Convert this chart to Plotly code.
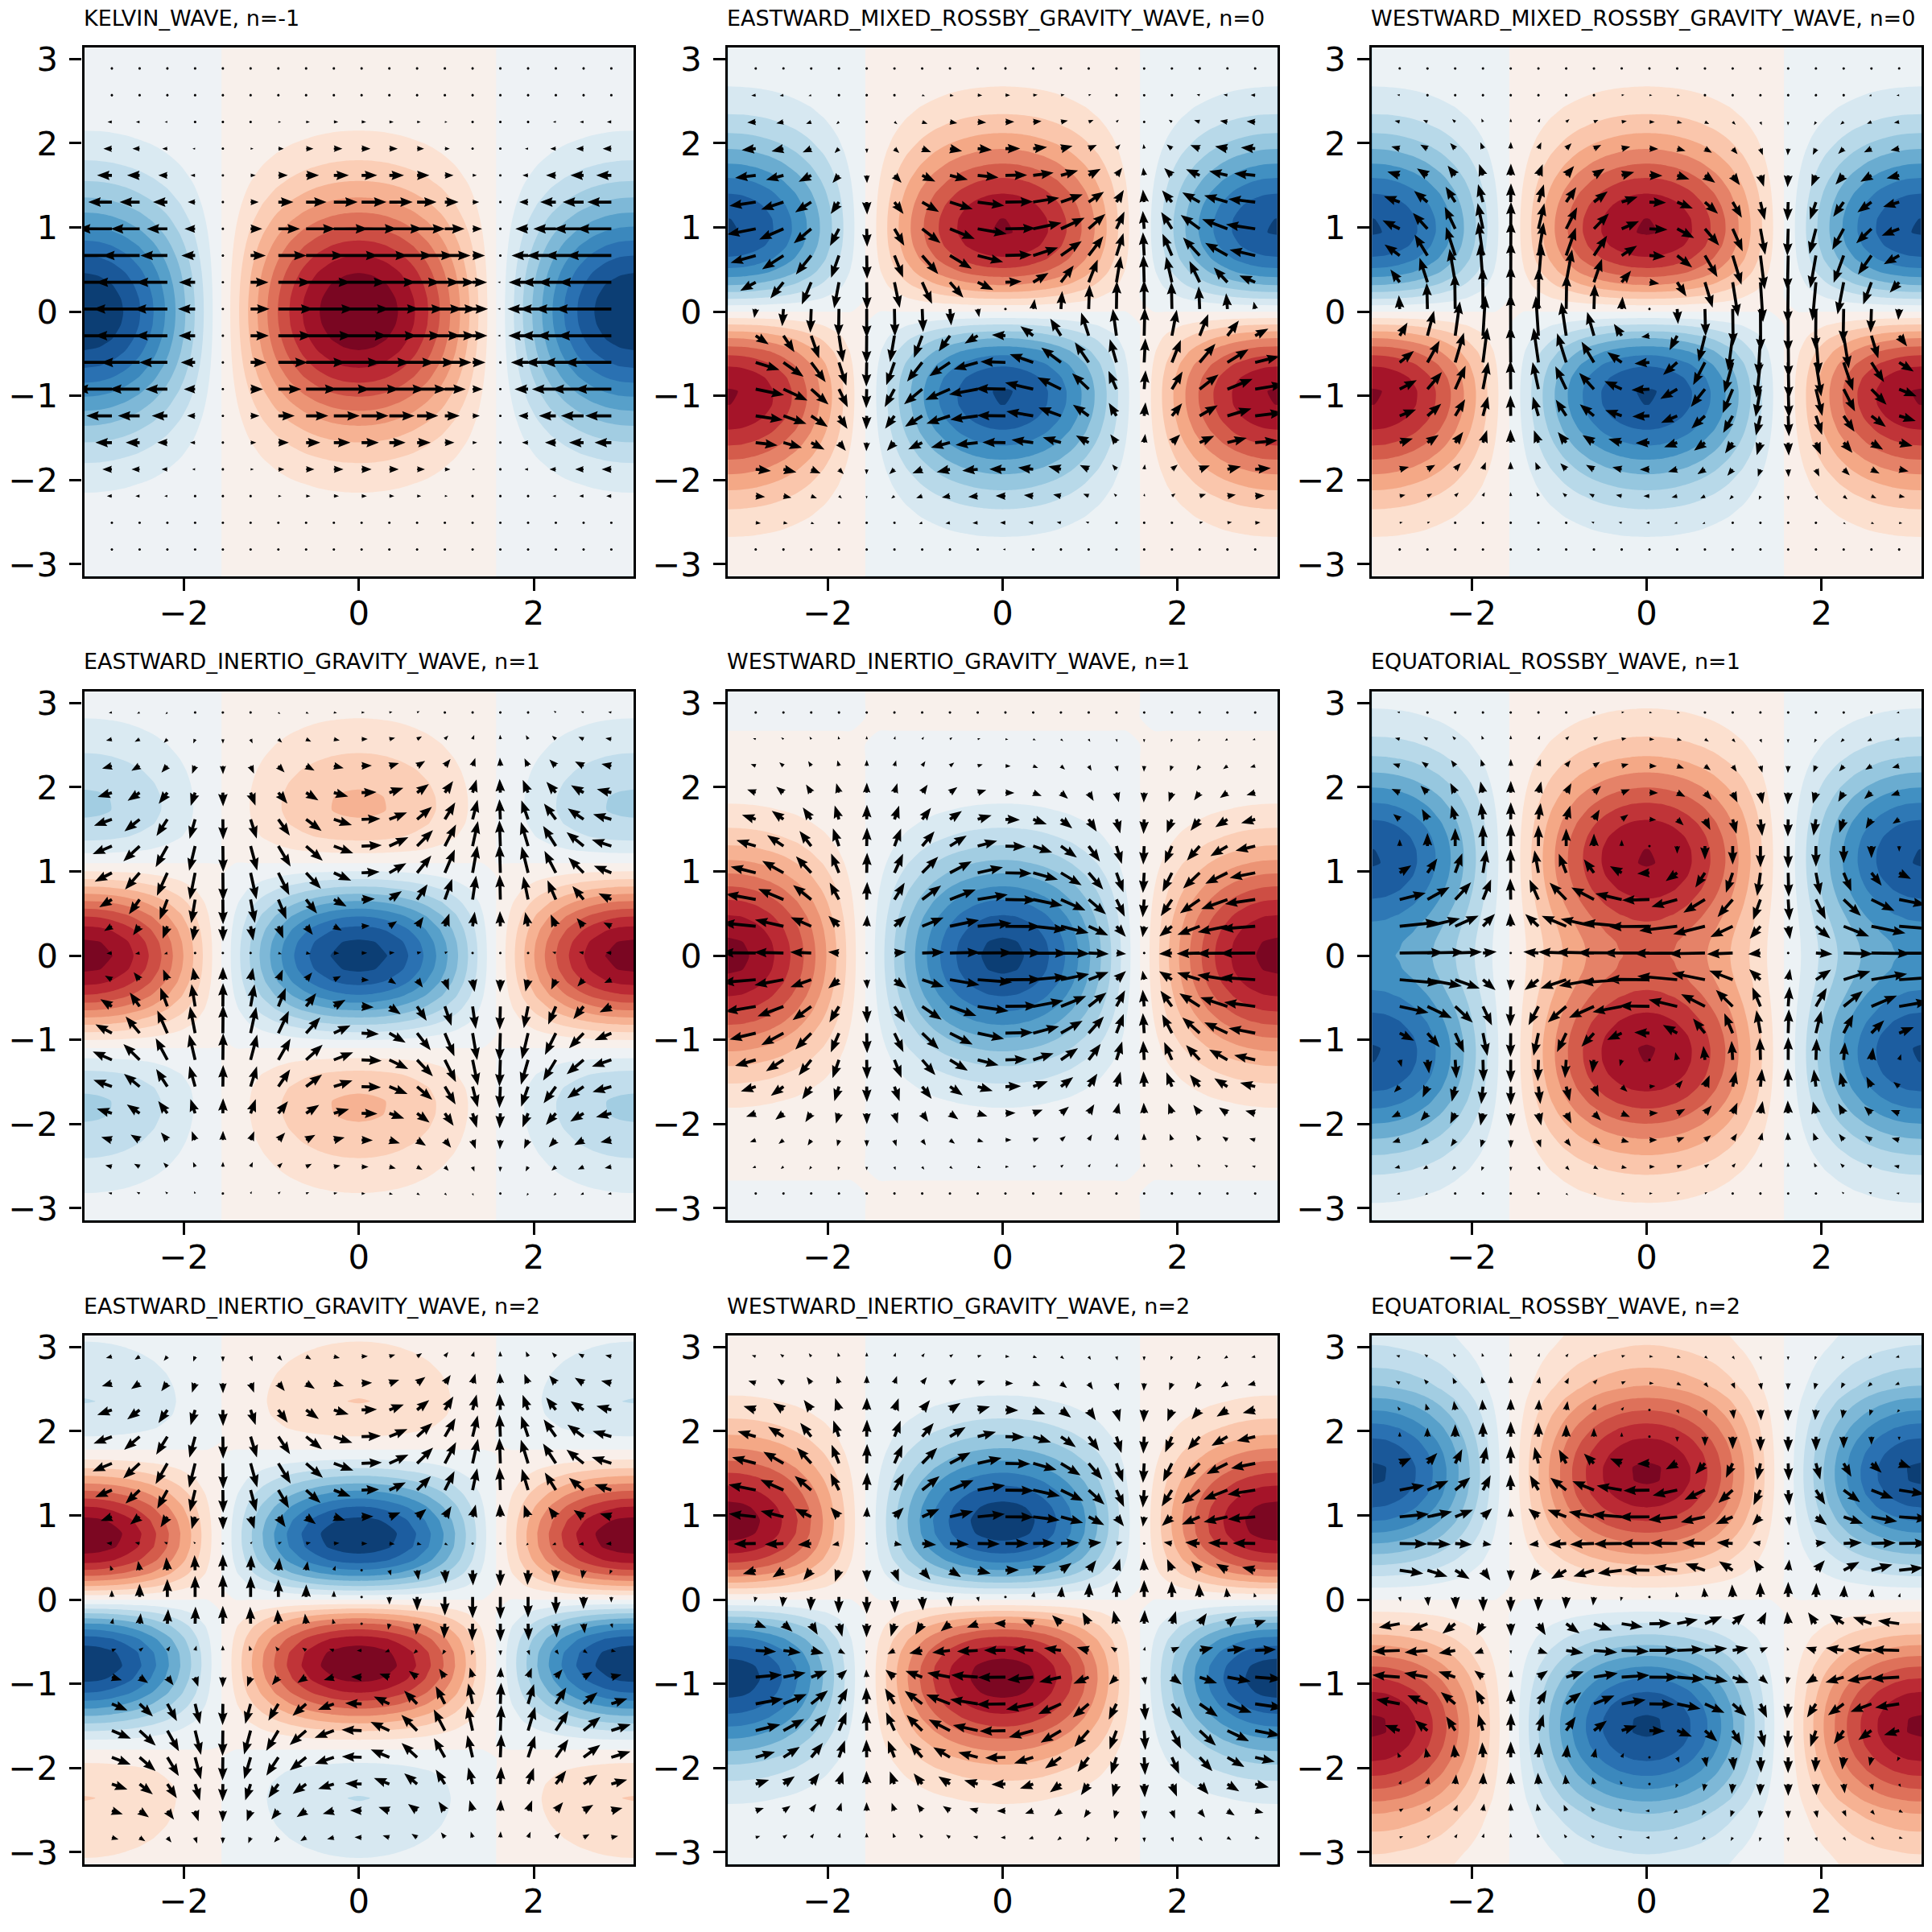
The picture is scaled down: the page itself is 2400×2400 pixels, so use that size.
import math
import numpy as np
import plotly.graph_objects as go

# Latitude profiles of the height field on y = 0, pi/20, ... pi (mirrored by parity below).
h_kelvin = [1.0, .988, .952, .895, .821, .735, .641, .546, .454, .368, .291, .225, .169, .124, .089, .062, .043, .028, .018, .012, .007]
h_mrg = [0, .207, .399, .563, .688, .770, .807, .802, .762, .695, .611, .518, .426, .339, .262, .196, .143, .101, .069, .046, .030]
h_eig1 = [-.950, -.919, -.830, -.694, -.525, -.341, -.161, .001, .133, .229, .289, .315, .313, .290, .255, .213, .171, .132, .098, .070, .049]
h_wig1 = [-.93, -.915, -.873, -.806, -.721, -.624, -.522, -.422, -.329, -.246, -.177, -.121, -.079, -.048, -.027, -.013, -.004, 0, .002, .003, .003]
h_er1 = [.520, .533, .569, .622, .683, .740, .784, .806, .802, .773, .719, .647, .563, .474, .387, .306, .234, .174, .126, .088, .060]
h_eig2 = [0, -.293, -.552, -.746, -.859, -.884, -.826, -.705, -.542, -.362, -.189, -.039, .074, .149, .189, .202, .193, .172, .144, .114, .087]
h_wig2 = [0, -.238, -.456, -.636, -.766, -.840, -.859, -.829, -.760, -.664, -.556, -.446, -.343, -.252, -.178, -.119, -.076, -.046, -.026, -.013, -.006]
h_er2 = [0, .111, .226, .346, .470, .593, .707, .803, .873, .910, .912, .879, .817, .732, .633, .529, .415, .335, .270, .210, .170]

# Zonal and meridional wind amplitudes on the 19 quiver rows, south to north.
u_kelvin = [.019, .043, .091, .173, .299, .465, .655, .834, .960, 1.0, .941, .801, .616, .429, .270, .154, .079, .037, .015]
v_kelvin = [0] * 19
u_emrg = [-.045, -.093, -.171, -.278, -.398, -.493, -.516, -.431, -.235, .027, .281, .457, .520, .478, .375, .255, .153, .081, .038]
v_emrg = [.009, .022, .046, .087, .149, .233, .327, .417, .480, .500, .470, .401, .308, .215, .135, .077, .040, .018, .008]
u_wmrg = [-.027, -.056, -.103, -.167, -.239, -.296, -.310, -.259, -.141, .016, .169, .275, .312, .287, .225, .153, .092, .049, .023]
v_wmrg = [-.015, -.034, -.070, -.132, -.226, -.352, -.495, -.630, -.726, -.755, -.711, -.605, -.465, -.324, -.204, -.116, -.060, -.028, -.012]
u_eig1 = [.065, .119, .194, .274, .335, .347, .299, .210, .127, .098, .141, .229, .312, .349, .325, .258, .177, .106, .056]
v_eig1 = [-.042, -.087, -.160, -.260, -.371, -.460, -.482, -.402, -.219, .026, .263, .427, .485, .446, .350, .238, .142, .076, .036]
u_wig1 = [.030, .060, .105, .175, .270, .375, .475, .555, .620, .630, .610, .540, .455, .350, .250, .155, .090, .050, .025]
v_wig1 = [.030, .062, .114, .186, .266, .330, .346, .289, .157, -.018, -.189, -.306, -.348, -.320, -.251, -.171, -.102, -.054, -.026]
u_er1 = [.055, .094, .134, .149, .103, -.035, -.262, -.524, -.732, -.800, -.698, -.473, -.211, 0, .118, .149, .126, .085, .048]
v_er1 = [.036, .074, .136, .221, .317, .393, .411, .343, .187, -.022, -.224, -.364, -.413, -.381, -.298, -.203, -.121, -.065, -.030]
u_eig2 = [-.122, -.199, -.283, -.342, -.346, -.285, -.182, -.083, -.024, .002, .032, .100, .204, .302, .351, .333, .266, .182, .108]
v_eig2 = [.106, .191, .299, .398, .438, .366, .173, -.088, -.308, -.382, -.273, -.034, .221, .391, .438, .381, .277, .172, .092]
u_wig2 = [-.082, -.149, -.243, -.350, -.446, -.498, -.477, -.372, -.194, .022, .234, .399, .488, .493, .430, .328, .222, .134, .071]
v_wig2 = [-.082, -.147, -.230, -.306, -.336, -.282, -.134, .066, .235, .292, .208, .026, -.169, -.301, -.336, -.293, -.212, -.132, -.071]
u_er2 = [-.065, -.07, -.03, .04, .27, .43, .50, .49, .38, -.02, -.43, -.50, -.53, -.45, -.21, 0, .04, .075, .065]
v_er2 = [-.073, -.131, -.205, -.273, -.300, -.251, -.119, .059, .210, .261, .185, .023, -.151, -.268, -.299, -.261, -.189, -.118, -.063]

# Zonal phase of the wave on the contour grid and on the quiver columns.
phase_half = [1.0, .988, .951, .891, .809, .707, .588, .454, .309, .156, 0, -.156, -.309, -.454, -.588, -.707, -.809, -.891, -.951, -.988, -1.0]
col_cos = [-.950, -.806, -.579, -.297, .016, .327, .606, .824, .960, .999, .940, .786, .553, .267, -.047, -.357, -.630, -.841, -.968]
col_sin = [-.312, -.593, -.815, -.955, -1.0, -.945, -.796, -.567, -.281, .032, .342, .618, .833, .964, .999, .934, .777, .541, .251]

titles = [
    "KELVIN_WAVE, n=-1", "EASTWARD_MIXED_ROSSBY_GRAVITY_WAVE, n=0", "WESTWARD_MIXED_ROSSBY_GRAVITY_WAVE, n=0",
    "EASTWARD_INERTIO_GRAVITY_WAVE, n=1", "WESTWARD_INERTIO_GRAVITY_WAVE, n=1", "EQUATORIAL_ROSSBY_WAVE, n=1",
    "EASTWARD_INERTIO_GRAVITY_WAVE, n=2", "WESTWARD_INERTIO_GRAVITY_WAVE, n=2", "EQUATORIAL_ROSSBY_WAVE, n=2",
]
x_ticks = [-2, 0, 2]
y_ticks = [-3, -2, -1, 0, 1, 2, 3]

panels = [
    (h_kelvin, 1, u_kelvin, v_kelvin, 1.0), (h_mrg, -1, u_emrg, v_emrg, .9), (h_mrg, -1, u_wmrg, v_wmrg, .9),
    (h_eig1, 1, u_eig1, v_eig1, 1.0), (h_wig1, 1, u_wig1, v_wig1, 1.0), (h_er1, 1, u_er1, v_er1, .9),
    (h_eig2, -1, u_eig2, v_eig2, .9), (h_wig2, -1, u_wig2, v_wig2, .9), (h_er2, -1, u_er2, v_er2, 1.0),
]

PI = math.pi
CANVAS = 2400
COL_PX = [(104.5, 787.0), (904.3, 1586.8), (1704.3, 2386.8)]
ROW_PX = [(58.5, 715.8), (858.5, 1515.8), (1658.5, 2315.8)]
STEP = 0.1
ARROW_UNIT = 72.0   # pixels of arrow per unit of wind
SHAFT = 3.7         # shaft width in pixels
HEAD_LEN, HEAD_AXIS, HEAD_WIDTH = 4.2, 3.8, 3.2   # arrow head, in shaft widths

RDBU_R = ["#053061", "#2166ac", "#4393c3", "#92c5de", "#d1e5f0", "#f7f7f7",
          "#fddbc7", "#f4a582", "#d6604d", "#b2182b", "#67001f"]
RDBU_RGB = [[int(c[i:i + 2], 16) for i in (1, 3, 5)] for c in RDBU_R]


def sample_rdbu(t):
    pos = min(max(t, 0.0), 1.0) * 10
    i = min(int(pos), 9)
    f = pos - i
    rgb = [RDBU_RGB[i][k] + (RDBU_RGB[i + 1][k] - RDBU_RGB[i][k]) * f for k in range(3)]
    return "rgb(%d,%d,%d)" % tuple(round(v) for v in rgb)


def band_colorscale(limit):
    """Discrete colours of the filled bands, with every band at its midpoint value."""
    n = round(2 * limit / STEP)
    stops = []
    for i in range(n):
        mid = -limit + STEP * (i + 0.5)
        s = ((mid + limit) / STEP + 0.5) / (n + 1)
        stops.append([s, sample_rdbu((mid + limit) / (2 * limit))])
    return [[0, stops[0][1]]] + stops + [[1, stops[-1][1]]]


def arrow_outline(length):
    """Arrow outline in shaft widths along +x, tail at the origin."""
    ii = [0, 1, 2, 3, 2, 1, 0, 0]
    if length < 0.85:
        th = np.arange(8) * (PI / 3.0)
        return np.cos(th) * 0.45, np.sin(th) * 0.45
    if length >= HEAD_LEN:
        bx = np.array([0, length - HEAD_AXIS, length - HEAD_LEN, length])
        by = 0.5 * np.array([1, 1, HEAD_WIDTH, 0])
    else:
        shrink = length / HEAD_LEN
        bx = shrink * np.array([0, HEAD_LEN - HEAD_AXIS, 0, HEAD_LEN])
        by = shrink * 0.5 * np.array([1, 1, HEAD_WIDTH, 0])
    px, py = bx[ii], by[ii].copy()
    py[3:-1] *= -1
    return px, py


fig = go.Figure()
grid = np.linspace(-PI, PI, 41)
phase_full = np.array(phase_half[::-1][:-1] + phase_half)
columns = np.linspace(-PI, PI, 100)[5:96:5]
rows = columns

for idx, (h_half, parity, u_amp, v_amp, limit) in enumerate(panels):
    r, c = idx // 3, idx % 3
    suffix = "" if idx == 0 else str(idx + 1)
    xa, ya = "x" + suffix, "y" + suffix
    x0, x1 = COL_PX[c]
    y0, y1 = ROW_PX[r]
    px_x = (x1 - x0) / (2 * PI)
    px_y = (y1 - y0) / (2 * PI)

    half = np.array(h_half, float)
    h_full = np.concatenate([parity * half[::-1][:-1], half])
    z = np.outer(h_full, phase_full)
    fig.add_trace(go.Contour(
        x=grid, y=grid, z=z, xaxis=xa, yaxis=ya,
        autocontour=False,
        contours=dict(start=-limit, end=limit, size=STEP, coloring="fill", showlines=False),
        colorscale=band_colorscale(limit),
        line=dict(width=0, smoothing=0.7),
        showscale=False, hoverinfo="skip",
    ))

    ax, ay = [], []
    for j, yr in enumerate(rows):
        for i, xc in enumerate(columns):
            du = u_amp[j] * col_cos[i] * ARROW_UNIT
            dv = v_amp[j] * col_sin[i] * ARROW_UNIT
            ox, oy = arrow_outline(math.hypot(du, dv) / SHAFT)
            th = math.atan2(dv, du)
            qx = (ox * math.cos(th) - oy * math.sin(th)) * SHAFT / px_x + xc
            qy = (ox * math.sin(th) + oy * math.cos(th)) * SHAFT / px_y + yr
            ax += list(qx) + [None]
            ay += list(qy) + [None]
    fig.add_trace(go.Scatter(
        x=ax, y=ay, xaxis=xa, yaxis=ya, mode="lines", fill="toself",
        fillcolor="black", line=dict(width=0, color="black"),
        hoverinfo="skip", showlegend=False,
    ))

    common = dict(range=[-PI, PI], showgrid=False, zeroline=False, showline=True, mirror=True,
                  linecolor="black", linewidth=3.3, ticks="outside", ticklen=15, tickwidth=3.3,
                  tickcolor="black", tickfont=dict(family="DejaVu Sans", size=41.67, color="black"))
    fig.layout["xaxis" + suffix] = dict(domain=[x0 / CANVAS, x1 / CANVAS], anchor=ya, tickmode="array",
                                        tickvals=x_ticks, ticklabelstandoff=-8, **common)
    fig.layout["yaxis" + suffix] = dict(domain=[1 - y1 / CANVAS, 1 - y0 / CANVAS], anchor=xa, tickmode="array",
                                        tickvals=y_ticks, ticklabelstandoff=6, **common)
    fig.add_annotation(text=titles[idx], xref=xa + " domain", yref=ya + " domain", x=0, y=1,
                       xanchor="left", yanchor="bottom", yshift=19, xshift=-3, showarrow=False,
                       font=dict(family="DejaVu Sans", size=27, color="black"))

fig.update_layout(width=CANVAS, height=CANVAS, autosize=False,
                  margin=dict(l=0, r=0, t=0, b=0, autoexpand=False),
                  paper_bgcolor="white", plot_bgcolor="white", showlegend=False)
fig.write_html("out.html")
